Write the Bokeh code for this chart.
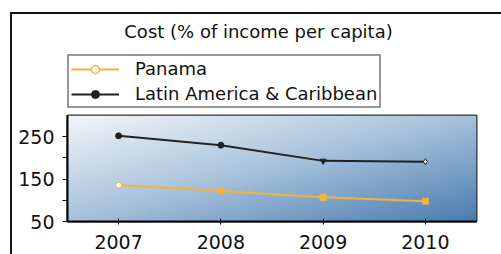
import numpy as np
from bokeh.plotting import figure
from bokeh.layouts import column
from bokeh.models import (Legend, LegendItem, FixedTicker, Range1d, InlineStyleSheet, Label)
from bokeh.embed import file_html
from bokeh.resources import INLINE

# ---- data ----
years = [2007, 2008, 2009, 2010]
panama = [136, 122, 107, 98]
lac = [252, 230, 193, 191]
series_names = ["Panama", "Latin America & Caribbean"]
y_ticks = [50, 100, 150, 200, 250]
y_labelled = [50, 150, 250]
title_text = "Cost (% of income per capita)"

# marker styles per point (as seen in the reference)
panama_markers = ["circle", "square", "square", "square"]
lac_markers = ["circle", "circle", "inverted_triangle", "diamond"]

FONT = "DejaVu Sans"
W = 501
TOP_H = 113
BOT_H = 141
FRAME_L, FRAME_R = 67, 476

pan_color = "#f0b43c"
lac_color = "#222222"

# ---------- header figure: title + legend ----------
head = figure(width=W, height=TOP_H, output_backend="svg", toolbar_location=None,
              x_range=Range1d(FRAME_L, FRAME_R), y_range=Range1d(TOP_H, 0),
              x_axis_type=None, y_axis_type=None,
              min_border_left=0, min_border_right=0, min_border_top=0, min_border_bottom=0)
head.outline_line_color = None
head.grid.visible = False
head.background_fill_color = "white"
head.border_fill_color = "white"

head.add_layout(Label(x=258, y=31, text=title_text, text_font=FONT, text_font_size="18px",
                      text_color="#111111", text_align="center", text_baseline="middle"))

# legend glyph renderers (their data lies outside the header's visible range)
h1 = head.line(x=years, y=panama, line_color=pan_color, line_width=2)
h1m = head.scatter(x=years, y=panama, marker="circle", size=6, fill_color="white",
                   line_color=pan_color, line_width=1.5)
h2 = head.line(x=years, y=lac, line_color=lac_color, line_width=2)
h2m = head.scatter(x=years, y=lac, marker="circle", size=4, fill_color=lac_color,
                   line_color=lac_color)

legend = Legend(items=[LegendItem(label=series_names[0], renderers=[h1, h1m]),
                       LegendItem(label=series_names[1], renderers=[h2, h2m])],
                location=(0, 5), orientation="vertical",
                label_text_font=FONT, label_text_font_size="18px", label_text_color="#111111",
                glyph_width=48, glyph_height=20, label_height=20, label_standoff=16,
                spacing=4, padding=2, margin=0,
                border_line_color="#333333", border_line_width=2,
                background_fill_color="white", background_fill_alpha=1.0)
head.add_layout(legend, "center")

# ---------- chart figure ----------
p = figure(width=W, height=BOT_H, output_backend="svg", toolbar_location=None,
           x_range=Range1d(2006.5, 2010.5), y_range=Range1d(50, 300),
           min_border_left=FRAME_L, min_border_right=W - FRAME_R, min_border_top=2,
           min_border_bottom=33)
p.background_fill_color = "white"
p.border_fill_color = "white"
p.outline_line_color = "#333333"
p.outline_line_width = 2
p.grid.visible = False

# gradient background through an image glyph
nx, ny = 200, 60
u = np.linspace(0, 1, nx)[None, :]
v = np.linspace(1, 0, ny)[:, None]
t = (u + v) / 2.0
c0 = np.array([0xf2, 0xf6, 0xfa], float)
c1 = np.array([0xa6, 0xc1, 0xdb], float)
c2 = np.array([0x4a, 0x7d, 0xb2], float)
t3 = t[..., None]
col = np.where(t3 < 0.5, c0 + (c1 - c0) * (t3 / 0.5), c1 + (c2 - c1) * ((t3 - 0.5) / 0.5))
img = np.empty((ny, nx), dtype=np.uint32)
view = img.view(dtype=np.uint8).reshape((ny, nx, 4))
view[..., 0] = col[..., 0].astype(np.uint8)
view[..., 1] = col[..., 1].astype(np.uint8)
view[..., 2] = col[..., 2].astype(np.uint8)
view[..., 3] = 255
p.image_rgba(image=[img], x=2006.5, y=50, dw=4, dh=250)

p.line(years, panama, line_color=pan_color, line_width=2)
p.scatter(years, panama, marker=panama_markers, size=6,
          fill_color=["white", pan_color, pan_color, pan_color], line_color=pan_color)
p.line(years, lac, line_color=lac_color, line_width=2)
p.scatter(years, lac, marker=lac_markers, size=6,
          fill_color=[lac_color, lac_color, lac_color, "white"], line_color=lac_color)

# axes
p.xaxis.ticker = FixedTicker(ticks=years)
p.yaxis.ticker = FixedTicker(ticks=y_ticks)
p.yaxis.major_label_overrides = {tk: ("" if tk not in y_labelled else str(tk)) for tk in y_ticks}
for ax in (p.xaxis, p.yaxis):
    ax.axis_line_color = "black"
    ax.axis_line_width = 2
    ax.major_tick_line_color = "black"
    ax.major_tick_line_width = 1
    ax.minor_tick_line_color = None
    ax.major_label_text_font = FONT
    ax.major_label_text_font_size = "19px"
    ax.major_label_text_color = "#111111"
p.xaxis.major_tick_out = 3
p.xaxis.major_tick_in = 3
p.yaxis.major_tick_out = 5
p.yaxis.major_tick_in = 0
p.xaxis.major_label_standoff = 10
p.yaxis.major_label_standoff = 8

layout = column(head, p, spacing=0)
# outer chart border (top and left edges visible in the crop)
layout.stylesheets = [InlineStyleSheet(css="""
:host { position: relative; }
:host::after { content: ""; position: absolute; left: 10px; top: 12px; right: 0px; bottom: 0px;
  border-left: 2px solid #111; border-top: 2px solid #111; pointer-events: none; }
""")]

open("out.html", "w").write(file_html(layout, INLINE))
